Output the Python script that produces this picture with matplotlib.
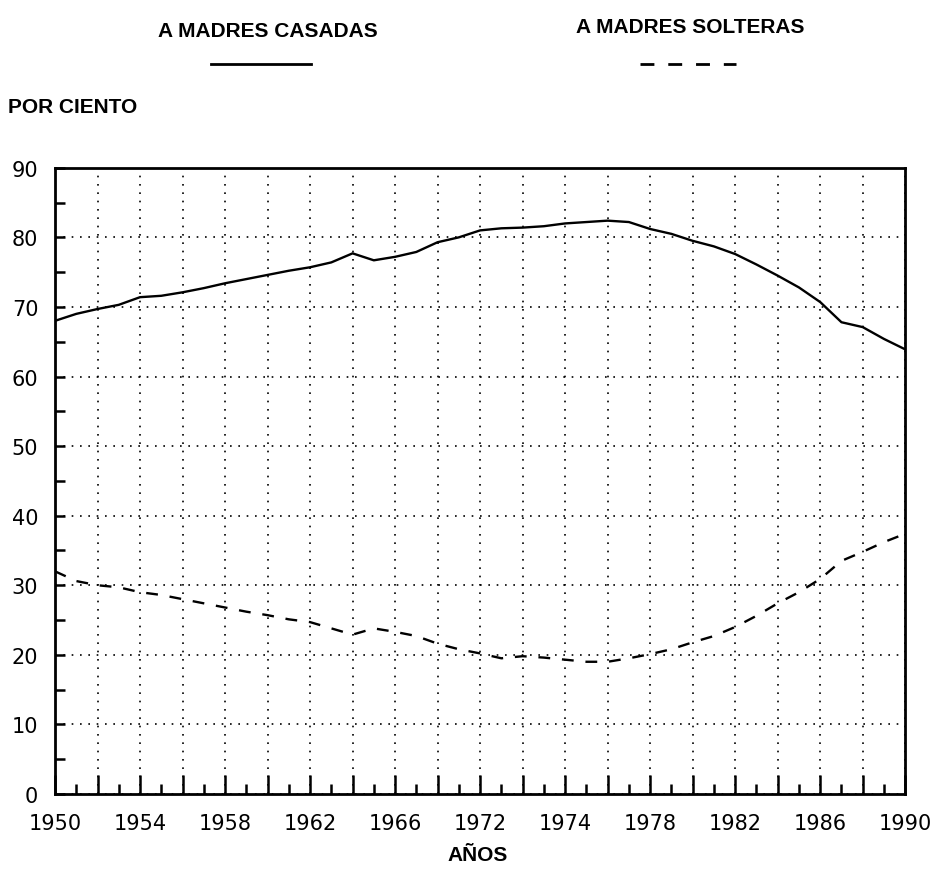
import numpy as np
import matplotlib
matplotlib.use("Agg")
import matplotlib.pyplot as plt
from matplotlib.ticker import MultipleLocator

years = list(range(1950, 1991))

casadas = [68.0, 69.0, 69.7, 70.3, 71.4, 71.6, 72.1, 72.7, 73.4, 74.0, 74.6,
           75.2, 75.7, 76.4, 77.7, 76.7, 77.2, 77.9, 79.3, 80.0, 81.0,
           81.3, 81.4, 81.6, 82.0, 82.2, 82.4, 82.2, 81.2, 80.5, 79.5,
           78.7, 77.6, 76.1, 74.5, 72.8, 70.7, 67.8, 67.1, 65.4, 63.9]

solteras = [32.0, 30.6, 30.0, 29.7, 29.0, 28.6, 28.0, 27.4, 26.8, 26.2, 25.7,
            25.1, 24.7, 23.8, 22.9, 23.8, 23.3, 22.7, 21.6, 20.8, 20.2,
            19.5, 19.8, 19.6, 19.3, 19.0, 19.0, 19.5, 20.1, 20.8, 21.8,
            22.7, 24.0, 25.6, 27.4, 29.0, 30.9, 33.5, 34.8, 36.2, 37.4]

tick_labels = ['1950', '1954', '1958', '1962', '1966', '1972',
               '1974', '1978', '1982', '1986', '1990']

font = ['Liberation Sans', 'DejaVu Sans']

fig = plt.figure(figsize=(9.4, 8.79), dpi=100)
ax = fig.add_axes([0.0585, 0.0956, 0.9045, 0.7124])

ax.plot(years, casadas, color='black', lw=1.7)
ax.plot(years, solteras, color='black', lw=1.7, dashes=(5, 5))

ax.set_xlim(1950, 1990)
ax.set_ylim(0, 90)
ax.xaxis.set_major_locator(MultipleLocator(2))
ax.xaxis.set_minor_locator(MultipleLocator(1))
ax.yaxis.set_major_locator(MultipleLocator(10))
ax.yaxis.set_minor_locator(MultipleLocator(5))

xl = []
for i in range(21):
    xl.append(tick_labels[i // 2] if i % 2 == 0 else '')
ax.set_xticks(range(1950, 1991, 2))
ax.set_xticklabels(xl)

ax.tick_params(which='major', direction='in', length=14, width=1.8,
               labelsize=15, pad=14)
ax.tick_params(which='minor', direction='in', length=7, width=1.8)
ax.tick_params(axis='y', which='major', length=7, pad=12)
for lab in ax.get_xticklabels() + ax.get_yticklabels():
    lab.set_family('DejaVu Sans')

ax.grid(True, which='major', ls=(0, (1, 4)), color='black', lw=1.2)
for s in ax.spines.values():
    s.set_linewidth(2.0)

fig.text(0.285, 0.964, 'A MADRES CASADAS', ha='center', va='center',
         fontsize=15, fontweight='bold', family=font)
fig.text(0.734, 0.969, 'A MADRES SOLTERAS', ha='center', va='center',
         fontsize=15, fontweight='bold', family=font)
fig.add_artist(plt.Line2D([0.224, 0.331], [0.926, 0.926], color='black', lw=2.0))
fig.add_artist(plt.Line2D([0.681, 0.783], [0.926, 0.926], color='black', lw=2.0,
                          dashes=(5, 5)))
fig.text(0.009, 0.878, 'POR CIENTO', ha='left', va='center',
         fontsize=15, fontweight='bold', family=font)
fig.text(0.508, 0.027, 'AÑOS', ha='center', va='center',
         fontsize=15, fontweight='bold', family=font)

fig.savefig('out.png', dpi=100)
